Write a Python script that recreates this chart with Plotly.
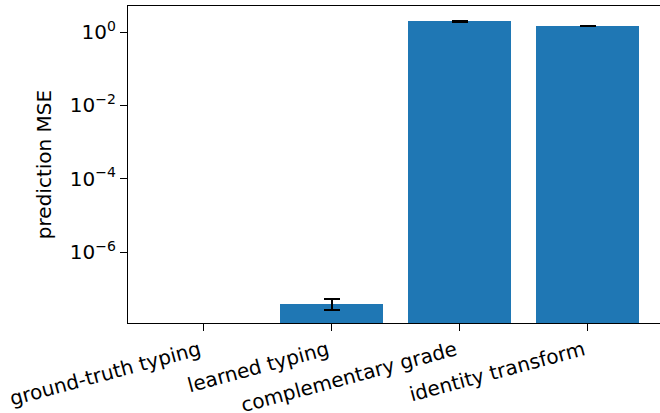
import plotly.graph_objects as go

# Prediction error of each typing variant (mean and spread over runs)
methods = ["ground-truth typing", "learned typing", "complementary grade", "identity transform"]
mse_mean = [0.0, 4.0e-8, 1.96, 1.46]
mse_std = [0.0, 1.3e-8, 0.06, 0.04]

ytick_vals = [1e0, 1e-2, 1e-4, 1e-6]
ytick_text = ["10<sup>0</sup>", "10<sup>−2</sup>", "10<sup>−4</sup>", "10<sup>−6</sup>"]

FONT = "DejaVu Sans"
FS = 20

fig = go.Figure(
    go.Bar(
        x=list(range(len(methods))),
        y=mse_mean,
        width=0.8,
        marker=dict(color="#1f77b4", line=dict(width=0)),
        error_y=dict(type="data", array=mse_std, visible=True,
                     color="black", thickness=2, width=8),
    )
)

fig.update_layout(
    width=660,
    height=413,
    margin=dict(l=128, r=0, t=6, b=90),
    paper_bgcolor="white",
    plot_bgcolor="white",
    font=dict(family=FONT, size=FS, color="black"),
    showlegend=False,
    bargap=0,
)

fig.update_xaxes(
    range=[-0.59, 3.565],
    tickvals=list(range(len(methods))),
    ticktext=methods,
    tickangle=-15,
    ticklabelshift=-4,
    ticks="outside",
    ticklen=7,
    tickwidth=1.3,
    tickcolor="black",
    showline=True,
    linecolor="black",
    linewidth=1.3,
    mirror=True,
    showgrid=False,
    zeroline=False,
    automargin=False,
    tickfont=dict(family=FONT, size=FS, color="black"),
)

fig.update_yaxes(
    type="log",
    range=[-7.925, 0.708],
    tickvals=ytick_vals,
    ticktext=ytick_text,
    ticks="outside",
    ticklen=7,
    tickwidth=1.3,
    tickcolor="black",
    showline=True,
    linecolor="black",
    linewidth=1.3,
    mirror=False,
    showgrid=False,
    zeroline=False,
    automargin=False,
    tickfont=dict(family=FONT, size=FS, color="black"),
    title=dict(text="prediction MSE", font=dict(family=FONT, size=FS, color="black"), standoff=12),
)

fig.write_html("out.html")
